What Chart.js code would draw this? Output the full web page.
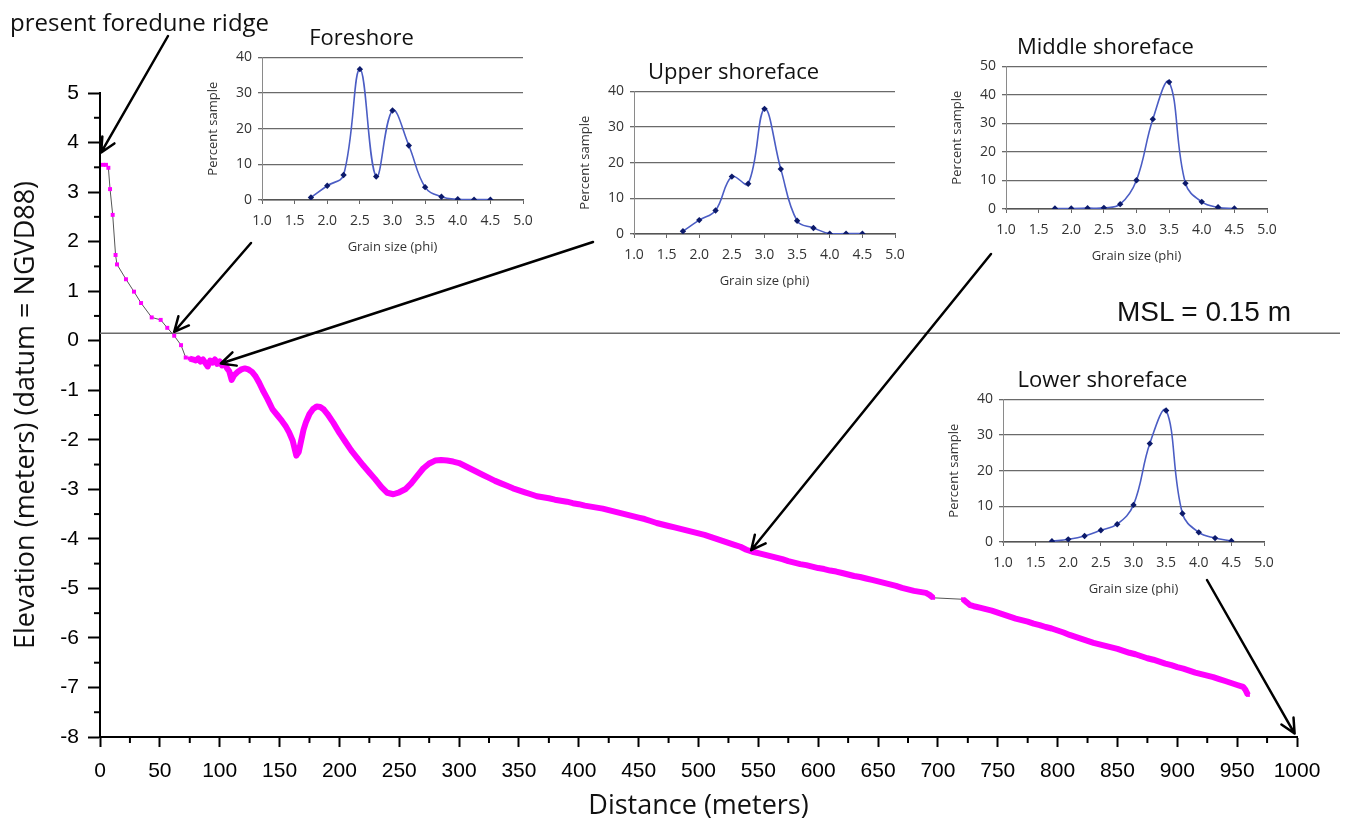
<!DOCTYPE html>
<html>
<head>
<meta charset="utf-8">
<script src="https://cdn.jsdelivr.net/npm/chart.js@4.4.1/dist/chart.umd.min.js"></script>
<style>
  body { margin: 0; background: #fff; }
  #wrap { position: relative; width: 1346px; height: 828px; overflow: hidden; }
  canvas { position: absolute; }
  .note { position: absolute; color: #111; white-space: nowrap; line-height: 1; }
  #ridgeNote { left: 10px; top: 5px; font: 24px "Open Sans", sans-serif; }
  #mslNote { left: 1117px; top: 296px; font: 28px "Liberation Sans", Arial, sans-serif; }
</style>
</head>
<body>
<div id="wrap">
  <canvas id="main" width="1346" height="828" style="left:0;top:0"></canvas>
  <canvas id="fore"></canvas>
  <canvas id="upper"></canvas>
  <canvas id="middle"></canvas>
  <canvas id="lower"></canvas>
  <div class="note" id="ridgeNote">present foredune ridge</div>
  <div class="note" id="mslNote">MSL = 0.15 m</div>
</div>
<script>
// ================= DATA =================
// beach profile: distance (m) and elevation (m, NGVD88)
const profileDistance = [
  2.5, 5, 7, 8.4, 10.6, 13, 14.2, 21.7, 28.4, 34.3, 43.2, 50.7, 56.2, 62, 67.7, 71.6,
  75, 78, 80, 82, 84, 86, 88, 90, 92, 94, 96, 98, 100, 102, 104, 106, 108, 110, 112, 115,
  118, 121, 124, 127, 130, 133, 136, 140, 144, 148, 152, 155, 158, 161, 164, 166, 168, 170,
  172, 175, 178, 181, 184, 187, 190, 195, 200, 205, 210, 215, 220, 225, 230, 235, 240, 245,
  250, 255, 260, 265, 270, 275, 280, 285, 290, 295, 300, 305, 310, 315, 320, 325, 330, 335,
  340, 345, 350, 355, 360, 365, 370, 375, 380, 385, 390, 395, 400, 405, 410, 415, 420, 425,
  430, 435, 440, 445, 450, 455, 460, 465, 470, 475, 480, 485, 490, 495, 500, 505, 510, 515,
  520, 525, 530, 535, 540, 545, 550, 555, 560, 565, 570, 575, 580, 585, 590, 595, 600, 605,
  610, 615, 620, 625, 630, 635, 640, 645, 650, 655, 660, 665, 670, 675, 680, 685, 690, 693,
  696, 721, 724, 727, 730, 735, 740, 745, 750, 755, 760, 765, 770, 775, 780, 785, 790, 795,
  800, 805, 810, 815, 820, 825, 830, 835, 840, 845, 850, 855, 860, 865, 870, 875, 880, 885,
  890, 895, 900, 905, 910, 915, 920, 925, 930, 935, 940, 945, 950, 955, 957, 959
];
const profileElevation = [
  3.55, 3.55, 3.49, 3.06, 2.54, 1.73, 1.54, 1.24, 0.99, 0.76, 0.47, 0.42, 0.26, 0.10, -0.09, -0.34,
  -0.36, -0.38, -0.40, -0.36, -0.42, -0.38, -0.45, -0.52, -0.40, -0.44, -0.38, -0.47, -0.42, -0.50, -0.45, -0.55, -0.62, -0.79, -0.70, -0.63,
  -0.58, -0.56, -0.58, -0.63, -0.72, -0.85, -1.00, -1.18, -1.38, -1.50, -1.62, -1.72, -1.85, -2.02, -2.32, -2.25, -2.02, -1.80,
  -1.65, -1.48, -1.38, -1.33, -1.34, -1.39, -1.48, -1.66, -1.86, -2.04, -2.22, -2.37, -2.52, -2.66, -2.80, -2.95, -3.07, -3.10,
  -3.06, -3.00, -2.88, -2.73, -2.58, -2.48, -2.42, -2.41, -2.42, -2.44, -2.47, -2.53, -2.59, -2.65, -2.71, -2.77, -2.83, -2.88,
  -2.93, -2.98, -3.02, -3.06, -3.10, -3.14, -3.16, -3.18, -3.21, -3.23, -3.25, -3.28, -3.30, -3.33, -3.35, -3.37, -3.39, -3.42,
  -3.45, -3.48, -3.51, -3.54, -3.57, -3.60, -3.64, -3.68, -3.71, -3.74, -3.77, -3.80, -3.83, -3.86, -3.89, -3.92, -3.96, -4.00,
  -4.04, -4.08, -4.12, -4.16, -4.22, -4.26, -4.29, -4.32, -4.35, -4.38, -4.41, -4.45, -4.48, -4.51, -4.53, -4.56, -4.59, -4.61,
  -4.64, -4.66, -4.69, -4.72, -4.75, -4.77, -4.80, -4.83, -4.86, -4.89, -4.92, -4.95, -4.99, -5.02, -5.05, -5.07, -5.09, -5.13,
  -5.19, -5.22, -5.28, -5.34, -5.36, -5.39, -5.42, -5.45, -5.49, -5.53, -5.57, -5.61, -5.64, -5.67, -5.71, -5.74, -5.78, -5.81,
  -5.85, -5.89, -5.94, -5.98, -6.02, -6.06, -6.10, -6.13, -6.16, -6.19, -6.22, -6.26, -6.30, -6.33, -6.37, -6.41, -6.44, -6.48,
  -6.52, -6.55, -6.59, -6.62, -6.66, -6.70, -6.73, -6.76, -6.79, -6.83, -6.87, -6.91, -6.95, -6.99, -7.05, -7.15
];
const mslLevel = 0.15;

// grain size distributions (percent sample per phi class)
const phiClasses = [1.75, 2.0, 2.25, 2.5, 2.75, 3.0, 3.25, 3.5, 3.75, 4.0, 4.25, 4.5];
const foreshorePct = [0.7, 4.0, 7.0, 36.7, 6.6, 25.1, 15.3, 3.6, 0.9, 0.2, 0.1, 0.1];
const upperPct = [0.8, 3.9, 6.6, 16.1, 14.1, 35.1, 18.2, 3.7, 1.7, 0.1, 0.1, 0.1];
const middlePct = [0.2, 0.2, 0.3, 0.4, 1.7, 10.1, 31.5, 44.5, 9.0, 2.5, 0.6, 0.2];
const lowerPct = [0.2, 0.75, 1.7, 3.3, 5.0, 10.4, 27.6, 36.9, 8.0, 2.7, 1.1, 0.3];

// arrows: tip in data units (distance, elevation), tail in page pixels
const arrows = [
  { tip: [1, 3.8], tail: [168, 36] },
  { tip: [62, 0.18], tail: [251, 243] },
  { tip: [101, -0.46], tail: [593, 242] },
  { tip: [544, -4.23], tail: [991, 254] },
  { tip: [998, -7.93], tail: [1207, 580] },
];

const MAGENTA = "#ff00ff";

// ================= MAIN PROFILE =================
const profilePoints = profileDistance.map((d, i) => ({ x: d, y: profileElevation[i] }));

function isDense(ctx) {
  return ctx.p0.parsed.x >= 74 && ctx.p1.parsed.x - ctx.p0.parsed.x < 10;
}

const extrasPlugin = {
  id: "extras",
  beforeDatasetsDraw(chart) {
    const { ctx, chartArea, scales } = chart;
    const y = scales.y.getPixelForValue(mslLevel);
    ctx.save();
    ctx.strokeStyle = "#6b6b6b";
    ctx.lineWidth = 1.5;
    ctx.beginPath();
    ctx.moveTo(chartArea.left, y);
    ctx.lineTo(1340, y);
    ctx.stroke();
    ctx.restore();
  },
  afterDraw(chart) {
    const { ctx, chartArea, scales } = chart;
    ctx.save();
    // minor ticks
    ctx.strokeStyle = "#000";
    ctx.lineWidth = 2;
    scales.x.ticks.forEach((t) => {
      if (t.value % 50 === 0) return;
      const px = scales.x.getPixelForValue(t.value);
      ctx.beginPath();
      ctx.moveTo(px, chartArea.bottom);
      ctx.lineTo(px, chartArea.bottom + 6);
      ctx.stroke();
    });
    scales.y.ticks.forEach((t) => {
      if (Number.isInteger(t.value)) return;
      const py = scales.y.getPixelForValue(t.value);
      ctx.beginPath();
      ctx.moveTo(chartArea.left, py);
      ctx.lineTo(chartArea.left - 6, py);
      ctx.stroke();
    });
    // arrows
    ctx.lineWidth = 2.5;
    ctx.lineCap = "round";
    arrows.forEach((a) => {
      const tx = scales.x.getPixelForValue(a.tip[0]);
      const ty = scales.y.getPixelForValue(a.tip[1]);
      const [sx, sy] = a.tail;
      const ang = Math.atan2(ty - sy, tx - sx);
      ctx.beginPath();
      ctx.moveTo(sx, sy);
      ctx.lineTo(tx, ty);
      [0.45, -0.45].forEach((d) => {
        ctx.moveTo(tx, ty);
        ctx.lineTo(tx - 16 * Math.cos(ang + d), ty - 16 * Math.sin(ang + d));
      });
      ctx.stroke();
    });
    ctx.restore();
  },
};

new Chart(document.getElementById("main"), {
  type: "line",
  data: {
    datasets: [
      {
        data: profilePoints,
        borderColor: "#555",
        borderWidth: 1,
        borderJoinStyle: "round",
        pointStyle: "rect",
        pointRadius: 2.8,
        pointBorderWidth: 0,
        pointBackgroundColor: MAGENTA,
        segment: {
          borderColor: (ctx) => (isDense(ctx) ? MAGENTA : "#555"),
          borderWidth: (ctx) => (isDense(ctx) ? 6 : 1),
        },
      },
    ],
  },
  options: {
    responsive: false,
    animation: false,
    layout: { padding: { top: 93, right: 49 } },
    plugins: { legend: { display: false }, tooltip: { enabled: false } },
    scales: {
      x: {
        type: "linear",
        min: 0,
        max: 1000,
        afterFit: (s) => { s.height = 91; },
        border: { color: "#000", width: 2 },
        grid: {
          drawOnChartArea: false,
          tickLength: 10,
          tickWidth: 2,
          tickColor: (c) => (c.tick && c.tick.value % 50 === 0 ? "#000" : "rgba(0,0,0,0)"),
        },
        ticks: {
          stepSize: 25,
          autoSkip: false,
          maxRotation: 0,
          padding: 12,
          color: "#000",
          font: { family: "Liberation Sans, Arial", size: 21 },
          callback: (v) => (v % 50 === 0 ? String(v) : ""),
        },
        title: {
          display: true,
          text: "Distance (meters)",
          color: "#111",
          font: { family: "Open Sans", size: 27 },
          padding: { top: 0, bottom: 5 },
        },
      },
      y: {
        min: -8,
        max: 5,
        afterFit: (s) => { s.width = 100; },
        border: { color: "#000", width: 2 },
        grid: {
          drawOnChartArea: false,
          tickLength: 12,
          tickWidth: 2,
          tickColor: (c) => (c.tick && Number.isInteger(c.tick.value) ? "#000" : "rgba(0,0,0,0)"),
        },
        ticks: {
          stepSize: 0.5,
          autoSkip: false,
          padding: 9,
          color: "#000",
          font: { family: "Liberation Sans, Arial", size: 21 },
          callback: (v) => (Number.isInteger(v) ? String(v) : ""),
        },
        title: {
          display: true,
          text: "Elevation (meters) (datum = NGVD88)",
          color: "#111",
          font: { family: "Open Sans", size: 27 },
          padding: { top: 10, bottom: 0 },
        },
      },
    },
  },
  plugins: [extrasPlugin],
});

// ================= INSETS =================
function makeInset(id, title, values, yMax, plotLeft, plotTop) {
  const c = document.getElementById(id);
  c.width = 385;
  c.height = 234;
  c.style.left = plotLeft - 62 + "px";
  c.style.top = plotTop - 32 + "px";
  const small = { family: "Open Sans", size: 14 };
  return new Chart(c, {
    type: "line",
    data: {
      datasets: [
        {
          data: phiClasses.map((p, i) => ({ x: p, y: values[i] })),
          borderColor: "#4b5dc4",
          borderWidth: 1.6,
          tension: 0.4,
          pointStyle: "rectRot",
          pointRadius: 3.2,
          pointBorderWidth: 0,
          pointBackgroundColor: "#0c1a6b",
        },
      ],
    },
    options: {
      responsive: false,
      animation: false,
      layout: { padding: { right: 62 } },
      plugins: {
        legend: { display: false },
        tooltip: { enabled: false },
        title: {
          display: true,
          text: title,
          color: "#111",
          font: { family: "Open Sans", size: 22, weight: "normal" },
          padding: { top: 0, bottom: 5 },
        },
      },
      scales: {
        x: {
          type: "linear",
          min: 1,
          max: 5,
          afterFit: (s) => { s.height = 60; },
          border: { color: "#555", width: 1.4 },
          grid: { drawOnChartArea: false, tickLength: 4, color: "#666" },
          ticks: {
            stepSize: 0.5,
            autoSkip: false,
            maxRotation: 0,
            padding: 9,
            color: "#333",
            font: small,
            callback: (v) => v.toFixed(1),
          },
          title: {
            display: true,
            text: "Grain size (phi)",
            color: "#333",
            font: { family: "Open Sans", size: 13 },
            padding: { top: 0, bottom: 5 },
          },
        },
        y: {
          min: 0,
          max: yMax,
          afterFit: (s) => { s.width = 62; },
          border: { color: "#8a8a8a", width: 1 },
          grid: { color: "#6a6a6a", lineWidth: 1.3, tickLength: 4 },
          ticks: { stepSize: 10, padding: 6, color: "#333", font: small },
          title: {
            display: true,
            text: "Percent sample",
            color: "#333",
            font: { family: "Open Sans", size: 13 },
            padding: { top: 5, bottom: 0 },
          },
        },
      },
    },
  });
}

makeInset("fore", "Foreshore", foreshorePct, 40, 262, 58);
makeInset("upper", "Upper shoreface", upperPct, 40, 634, 92);
makeInset("middle", "Middle shoreface", middlePct, 50, 1006, 67);
makeInset("lower", "Lower shoreface", lowerPct, 40, 1003, 400);
</script>
</body>
</html>
